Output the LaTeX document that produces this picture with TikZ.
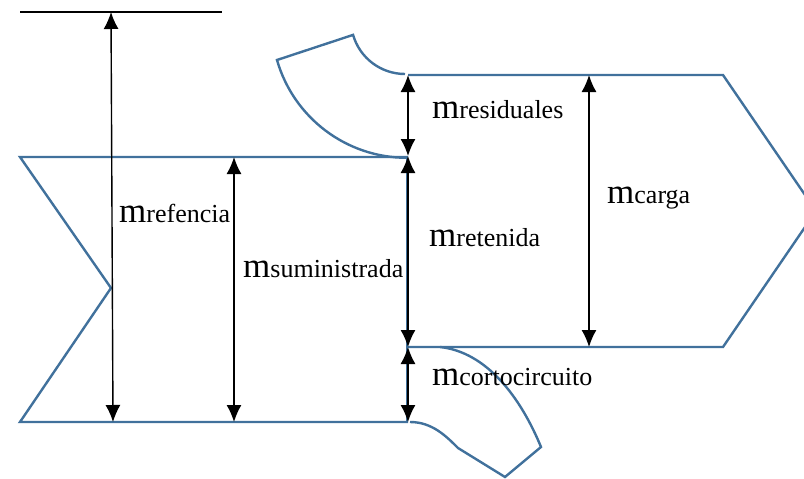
\documentclass[tikz,border=0pt]{standalone}
\usepackage{fontspec}
\setmainfont{Liberation Serif}
\usetikzlibrary{arrows.meta}

\definecolor{azulflujo}{RGB}{65,113,156}

\tikzset{
  borde/.style={draw=azulflujo, line width=2.4pt, line join=miter},
  cota/.style={{Latex[length=17pt,width=15pt]}-{Latex[length=17pt,width=15pt]}, line width=1.4pt},
  etiqueta/.style={anchor=base west, inner sep=0pt},
}

\newcommand{\masa}[1]{{\fontsize{35}{37}\selectfont m}{\fontsize{26}{29}\selectfont #1}}

\begin{document}
\begin{tikzpicture}[x=1pt,y=-1pt]

\useasboundingbox (0,0) rectangle (804,479);

\draw[borde] (408,157) -- (20,157) -- (111,288) -- (20,422) -- (408,422);
\draw[borde] (407,157) -- (407,422);

\draw[borde] (408,75) -- (723,75) -- (816,211) -- (723,347) -- (408,347);

\draw[borde] (405,74) arc[start angle=90, end angle=164, radius=54]
  -- (277,60) arc[start angle=164, end angle=90, radius=135];

\draw[borde] (410,422) .. controls (432,422) and (446,436) .. (458,448)
  -- (505,477) -- (541,447) .. controls (520,396) and (486,352) .. (440,347);

\draw[line width=1.4pt] (20,12) -- (222,12);

\coordinate (ref-arriba) at (111,12);
\coordinate (ref-abajo) at (113,422);
\coordinate (sum-arriba) at (234,157);
\coordinate (sum-abajo) at (234,422);
\coordinate (res-arriba) at (408,75);
\coordinate (res-abajo) at (408,156);
\coordinate (ret-arriba) at (408,156);
\coordinate (ret-abajo) at (408,347);
\coordinate (cor-arriba) at (408,347);
\coordinate (cor-abajo) at (408,422);
\coordinate (car-arriba) at (589,75);
\coordinate (car-abajo) at (589,347);

\draw[cota] (ref-arriba) -- (ref-abajo);
\draw[cota] (sum-arriba) -- (sum-abajo);
\draw[cota] (res-arriba) -- (res-abajo);
\draw[cota] (ret-arriba) -- (ret-abajo);
\draw[cota] (cor-arriba) -- (cor-abajo);
\draw[cota] (car-arriba) -- (car-abajo);

\node[etiqueta] (m-ref) at (119,222) {\masa{refencia}};
\node[etiqueta] (m-sum) at (243,277) {\masa{suministrada}};
\node[etiqueta] (m-res) at (432,118) {\masa{residuales}};
\node[etiqueta] (m-ret) at (429,246) {\masa{retenida}};
\node[etiqueta] (m-cor) at (432,385) {\masa{cortocircuito}};
\node[etiqueta] (m-car) at (607,203) {\masa{carga}};

\end{tikzpicture}
\end{document}
